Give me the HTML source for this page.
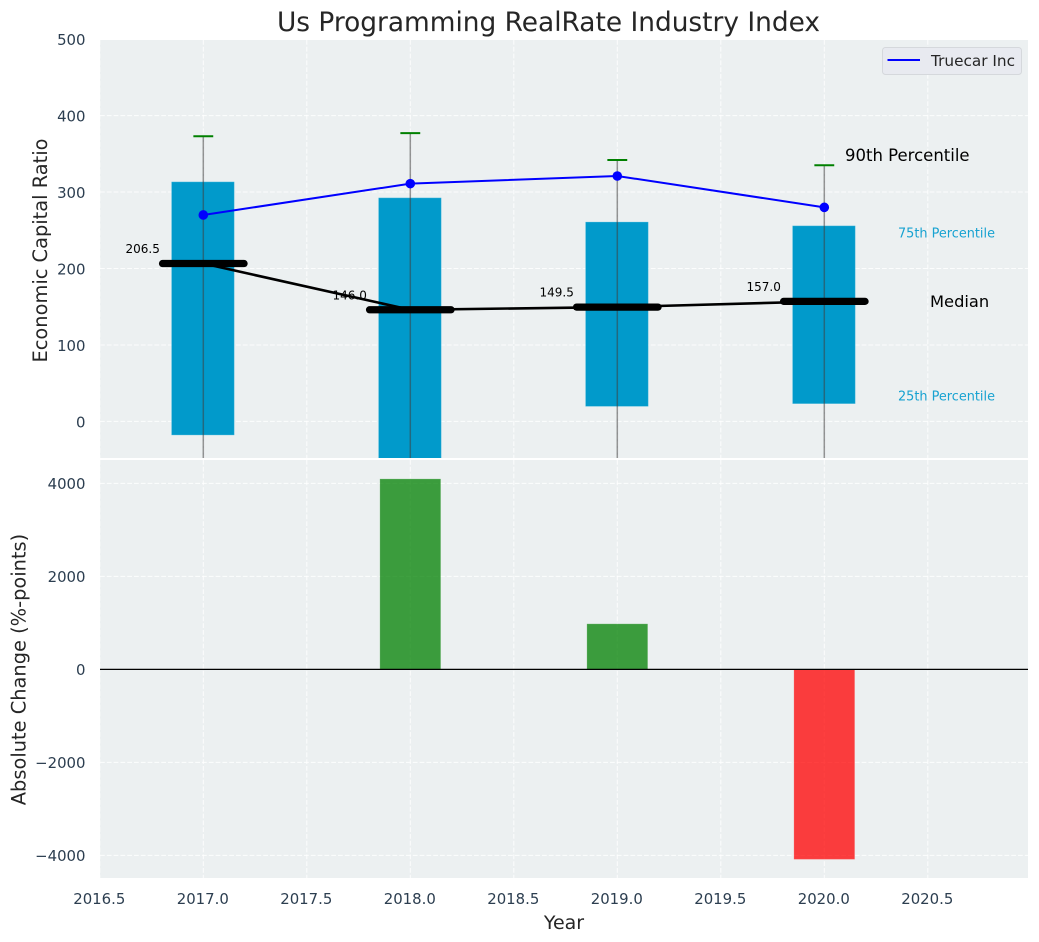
<!DOCTYPE html>
<html>
<head>
<meta charset="utf-8">
<title>Us Programming RealRate Industry Index</title>
<style>
html,body{margin:0;padding:0;background:#fff;width:1039px;height:942px;overflow:hidden}
svg{display:block}
text{font-family:"DejaVu Sans","Liberation Sans",sans-serif}
</style>
</head>
<body>
<svg id="chart" xmlns="http://www.w3.org/2000/svg" width="1039" height="942" viewBox="0 0 1039 942">
<defs>
<clipPath id="clip-top"><rect x="100" y="40" width="928" height="418"></rect></clipPath>
<clipPath id="clip-bottom"><rect x="100" y="460" width="928" height="418"></rect></clipPath>
</defs>
</svg>
<script>
const years = [2017, 2018, 2019, 2020];
const p25 = [-18, -60, 19.5, 23];
const p75 = [313.5, 292.6, 261, 256];
const p90 = [373, 377, 342, 335];
const p10 = [-80, -90, -70, -75];
const medians = [206.5, 146.0, 149.5, 157.0];
const truecar = [270, 311, 321, 280];
const changes = [0, 4097, 980, -4085];
const xTicks = [2016.5, 2017, 2017.5, 2018, 2018.5, 2019, 2019.5, 2020, 2020.5];
const yTicksTop = [0, 100, 200, 300, 400, 500];
const yTicksBottom = [-4000, -2000, 0, 2000, 4000];

const svg = document.getElementById('chart');
const NS = 'http://www.w3.org/2000/svg';
function xScale(v) { return 203.3 + (v - 2017) * 207; }
function yTop(v) { return 421.4 - v * 0.7645; }
function yBottom(v) { return 669.4 - v * 0.0465; }
function mk(tag, attrs, parent, txt) {
  const e = document.createElementNS(NS, tag);
  for (const k in attrs) e.setAttribute(k, attrs[k]);
  if (txt !== undefined) e.textContent = txt;
  (parent || svg).appendChild(e);
  return e;
}
function fmt(v) { return String(v).replace('-', '\u2212'); }

let el;
el = mk('rect', {x: 100, y: 40, width: 928, height: 418, fill: '#ecf0f1'});


el = mk('rect', {x: 100, y: 460, width: 928, height: 418, fill: '#ecf0f1'});



const gridStyle = {stroke: '#ffffff', 'stroke-width': 1, 'stroke-dasharray': '4.8 2', 'stroke-opacity': 0.85};
xTicks.forEach(function (t) {
  const x = xScale(t);
  el = mk('line', Object.assign({x1: x, x2: x, y1: 40, y2: 458}, gridStyle));
  
  
  el = mk('line', Object.assign({x1: x, x2: x, y1: 460, y2: 878}, gridStyle));
  
  
  el = mk('text', {x: x - 0.5, y: 904, 'text-anchor': 'middle', 'font-size': 14.9, fill: '#2c3e50'}, svg, t.toFixed(1));
  
  
});
yTicksTop.forEach(function (t) {
  const y = yTop(t);
  el = mk('line', Object.assign({x1: 100, x2: 1028, y1: y, y2: y}, gridStyle));
  
  
  el = mk('text', {x: 85.5, y: y + 5.9, 'text-anchor': 'end', 'font-size': 14.9, fill: '#2c3e50'}, svg, fmt(t));
  
  
});
yTicksBottom.forEach(function (t) {
  const y = yBottom(t);
  el = mk('line', Object.assign({x1: 100, x2: 1028, y1: y, y2: y}, gridStyle));
  
  
  el = mk('text', {x: 85.5, y: y + 5.5, 'text-anchor': 'end', 'font-size': 14.9, fill: '#2c3e50'}, svg, fmt(t));
  
  
});

const topG = mk('g', {'clip-path': 'url(#clip-top)'});


const botG = mk('g', {'clip-path': 'url(#clip-bottom)'});



const boxHalf = 0.152;
years.forEach(function (yr, i) {
  const x0 = xScale(yr - boxHalf) - 0.4, x1 = xScale(yr + boxHalf) - 0.4;
  const yA = yTop(p75[i]), yB = yTop(p25[i]);
  el = mk('rect', {x: x0, y: yA, width: x1 - x0, height: yB - yA, fill: '#019acb', stroke: '#ffffff', 'stroke-opacity': 0.25, 'stroke-width': 1}, topG);
  
  
});

let pts = years.map(function (yr, i) { return xScale(yr) + ',' + yTop(medians[i]); }).join(' ');
el = mk('polyline', {points: pts, fill: 'none', stroke: '#000', 'stroke-width': 2.6}, topG);



years.forEach(function (yr, i) {
  const x = xScale(yr);
  el = mk('line', {x1: x, x2: x, y1: yTop(p90[i]), y2: yTop(p10[i]), stroke: '#404040', 'stroke-opacity': 0.55, 'stroke-width': 1.5}, topG);
  
  
  el = mk('line', {x1: xScale(yr - 0.048), x2: xScale(yr + 0.048), y1: yTop(p90[i]), y2: yTop(p90[i]), stroke: '#008000', 'stroke-width': 2}, topG);
  
  
  el = mk('line', {x1: xScale(yr - 0.197), x2: xScale(yr + 0.197), y1: yTop(medians[i]), y2: yTop(medians[i]), stroke: '#000', 'stroke-width': 7.2, 'stroke-linecap': 'round'}, topG);
  
  
  el = mk('text', {x: xScale(yr - 0.21), y: yTop(medians[i]) - 10.5, 'text-anchor': 'end', 'font-size': 12, fill: '#000'}, topG, medians[i].toFixed(1));
  
  
});

pts = years.map(function (yr, i) { return xScale(yr) + ',' + yTop(truecar[i]); }).join(' ');
el = mk('polyline', {points: pts, fill: 'none', stroke: '#0000ff', 'stroke-width': 2}, topG);


years.forEach(function (yr, i) {
  el = mk('circle', {cx: xScale(yr), cy: yTop(truecar[i]), r: 4.8, fill: '#0000ff'}, topG);
  
  
});

years.forEach(function (yr, i) {
  if (changes[i] === 0) return;
  const yA = yBottom(Math.max(changes[i], 0)), yB = yBottom(Math.min(changes[i], 0));
  el = mk('rect', {x: xScale(yr - 0.147), y: yA, width: 207 * 0.294, height: yB - yA, fill: changes[i] > 0 ? '#008000' : '#ff0000', 'fill-opacity': 0.75, stroke: '#ffffff', 'stroke-opacity': 0.15, 'stroke-width': 1}, botG);
  
  
});
el = mk('line', {x1: 100, x2: 1028, y1: yBottom(0), y2: yBottom(0), stroke: '#000', 'stroke-width': 1.2}, botG);



el = mk('text', {x: 548.5, y: 31, 'text-anchor': 'middle', 'font-size': 26.4, fill: '#262626'}, svg, 'Us Programming RealRate Industry Index');


el = mk('text', {x: 564, y: 929, 'text-anchor': 'middle', 'font-size': 19, fill: '#262626'}, svg, 'Year');


el = mk('text', {transform: 'translate(47,250.5) rotate(-90)', 'text-anchor': 'middle', 'font-size': 19.4, fill: '#262626'}, svg, 'Economic Capital Ratio');


el = mk('text', {transform: 'translate(25.5,669.5) rotate(-90)', 'text-anchor': 'middle', 'font-size': 19.4, fill: '#262626'}, svg, 'Absolute Change (%-points)');



el = mk('text', {x: 845, y: 161, 'font-size': 16.5, fill: '#000'}, svg, '90th Percentile');


el = mk('text', {x: 930, y: 307, 'font-size': 16.3, fill: '#000'}, svg, 'Median');


el = mk('text', {x: 898, y: 237.5, 'font-size': 12.85, fill: '#17a2d1'}, svg, '75th Percentile');


el = mk('text', {x: 898, y: 400.5, 'font-size': 12.85, fill: '#17a2d1'}, svg, '25th Percentile');



const legend = mk('g', {});


el = mk('rect', {x: 882.5, y: 47.5, width: 139, height: 27, rx: 3, fill: '#e8eaf0', stroke: '#d5d8dc', 'stroke-width': 1}, legend);


el = mk('line', {x1: 887.5, x2: 920, y1: 60, y2: 60, stroke: '#0000ff', 'stroke-width': 2}, legend);


el = mk('text', {x: 931, y: 66, 'font-size': 15.3, fill: '#262626'}, legend, 'Truecar Inc');


</script>
</body>
</html>
